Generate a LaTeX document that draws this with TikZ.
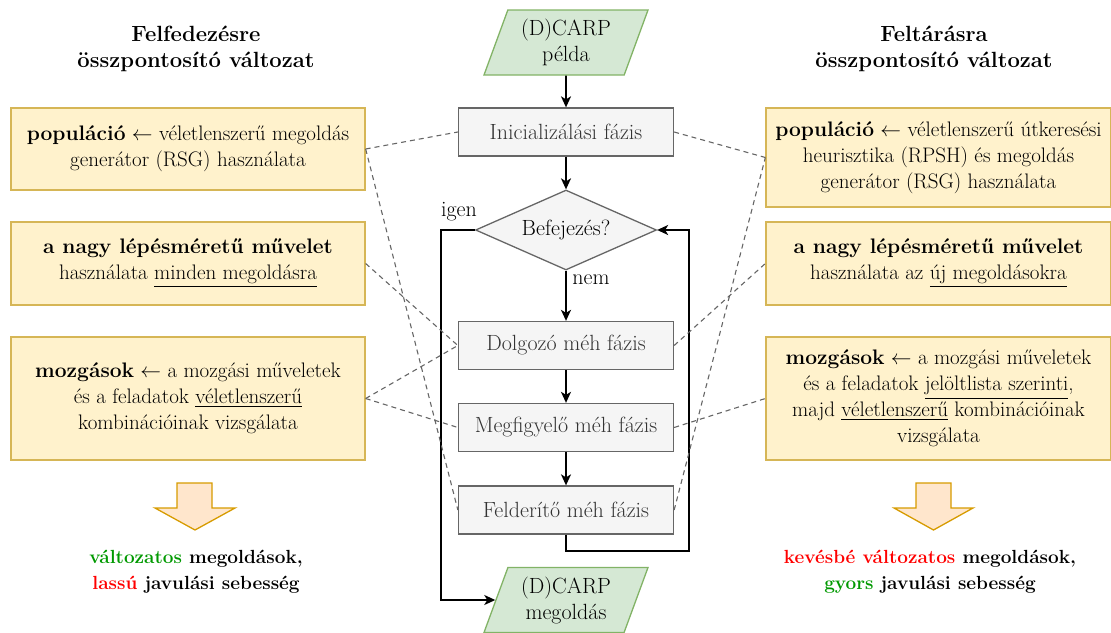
\documentclass[tikz,border=0pt]{standalone}
\usepackage{amsmath,amssymb}
\usetikzlibrary{positioning,shapes.geometric,arrows.meta}
\definecolor{notefill}{HTML}{FFF2CC}
\definecolor{noteline}{HTML}{D6B656}
\definecolor{phasefill}{HTML}{F5F5F5}
\definecolor{phaseline}{HTML}{666666}
\definecolor{phasetext}{HTML}{333333}
\definecolor{iofill}{HTML}{D5E8D4}
\definecolor{ioline}{HTML}{82B366}
\definecolor{arrowfill}{HTML}{FFE6CC}
\definecolor{arrowline}{HTML}{D79B00}
\definecolor{linkgray}{HTML}{666666}
\definecolor{goodgreen}{HTML}{009900}
\definecolor{badred}{HTML}{FF0000}
\newcommand{\fsz}{\fontsize{22}{26}\selectfont}
\newcommand{\notesz}{\fontsize{21}{26}\selectfont}
\newcommand{\ressz}{\fontsize{19}{26.5}\selectfont}

\begin{document}
\begin{tikzpicture}[x=1pt,y=-1pt,
		every node/.style={font=\fsz},
		note/.style={draw=noteline, fill=notefill, line width=1.3pt, align=center, inner sep=0pt, font=\notesz},
		phase/.style={draw=phaseline, fill=phasefill, text=phasetext, line width=1.3pt, minimum width=215pt, minimum height=48pt, inner sep=0pt},
		io/.style={trapezium, trapezium left angle=63, trapezium right angle=117, trapezium stretches body, draw=ioline, fill=iofill, line width=1.3pt, minimum width=164pt, minimum height=65pt, align=center, inner sep=0pt},
		flow/.style={line width=1.6pt, -{Stealth[length=11pt,width=10pt,inset=3pt]}},
		link/.style={draw=linkgray, line width=1.1pt, dash pattern=on 5pt off 4pt},
		bigarrow/.style={draw=arrowline, fill=arrowfill, line width=1.3pt},
		title/.style={font=\fsz\bfseries, align=center},
		result/.style={font=\ressz\bfseries, align=center}]
		\useasboundingbox (0,0) rectangle (1111,632);
		% oldalso cimek
		\node[title] (ltitle) at (196,48.5) {Felfedezésre\\összpontosító változat};
		\node[title] (rtitle) at (934,48.5) {Feltárásra\\összpontosító változat};
		% kozepso folyamat
		\node[io] (start) at (566,42.5) {(D)CARP\\példa};
		\node[phase] (init) at (566,132) {Inicializálási fázis};
		\node[diamond, aspect=2.26, draw=phaseline, fill=phasefill, text=black, line width=1.3pt, minimum width=181pt, minimum height=80pt, inner sep=0pt] (dec) at (566,230) {Befejezés?};
		\node[phase] (dolg) at (566,345.5) {Dolgozó méh fázis};
		\node[phase] (megf) at (566,427.5) {Megfigyelő méh fázis};
		\node[phase] (feld) at (566,510) {Felderítő méh fázis};
		\node[io] (end) at (566,600) {(D)CARP\\megoldás};
		\node (igenlbl) at (459,212) {igen};
		\node (nemlbl) at (591,280) {nem};
		\coordinate (loopR) at (689,551);
		\coordinate (loopL) at (441,600);
		\draw[flow] (start) -- (init);
		\draw[flow] (init) -- (dec);
		\draw[flow] (dec) -- (dolg);
		\draw[flow] (dolg) -- (megf);
		\draw[flow] (megf) -- (feld);
		\draw[flow] (feld.south) |- (loopR) |- (dec.east);
		\draw[flow] (dec.west) -| (loopL) -- (end);
		% bal oldali dobozok
		\node[note, minimum width=354pt, minimum height=82pt] (l1) at (188,149) {\textbf{populáció} $\leftarrow$ véletlenszerű megoldás\\generátor (RSG) használata};
		\node[note, minimum width=354pt, minimum height=83pt] (l2) at (188,263.5) {\textbf{a nagy lépésméretű művelet}\\használata \underline{minden megoldásra}};
		\node[note, minimum width=354pt, minimum height=123pt] (l3) at (188,398.5) {\textbf{mozgások} $\leftarrow$ a mozgási műveletek\\és a feladatok \underline{véletlenszerű}\\kombinációinak vizsgálata};
		% jobb oldali dobozok
		\node[note, minimum width=345pt, minimum height=99pt] (r1) at (938.5,157.5) {\textbf{populáció} $\leftarrow$ véletlenszerű útkeresési\\heurisztika (RPSH) és megoldás\\generátor (RSG) használata};
		\node[note, minimum width=345pt, minimum height=83pt] (r2) at (938.5,263.5) {\textbf{a nagy lépésméretű művelet}\\használata az \underline{új megoldásokra}};
		\node[note, minimum width=345pt, minimum height=123pt] (r3) at (938.5,398.5) {\textbf{mozgások} $\leftarrow$ a mozgási műveletek\\és a feladatok \underline{jelöltlista szerinti},\\majd \underline{véletlenszerű} kombinációinak\\vizsgálata};
		% szaggatott kapcsolatok
		\draw[link] (l1.east) -- (init.west);
		\draw[link] (l1.east) -- (feld.west);
		\draw[link] (l2.east) -- (dolg.west);
		\draw[link] (l3.east) -- (dolg.west);
		\draw[link] (l3.east) -- (megf.west);
		\draw[link] (init.east) -- (r1.west);
		\draw[link] (feld.east) -- (r1.west);
		\draw[link] (dolg.east) -- (r2.west);
		\draw[link] (megf.east) -- (r3.west);
		% nagy nyilak
		\draw[bigarrow] (177,483) -- (212,483) -- (212,508) -- (235,508) -- (195,530) -- (155,508) -- (177,508) -- cycle;
		\draw[bigarrow] (916,483) -- (951,483) -- (951,508) -- (973,508) -- (933.5,530) -- (894,508) -- (916,508) -- cycle;
		% eredmenyek
		\node[result] (lres) at (196,571.5) {\textcolor{goodgreen}{változatos} megoldások,\\\textcolor{badred}{lassú} javulási sebesség};
		\node[result] (rres) at (930,571.5) {\textcolor{badred}{kevésbé változatos} megoldások,\\\textcolor{goodgreen}{gyors} javulási sebesség};
\end{tikzpicture}
\end{document}
